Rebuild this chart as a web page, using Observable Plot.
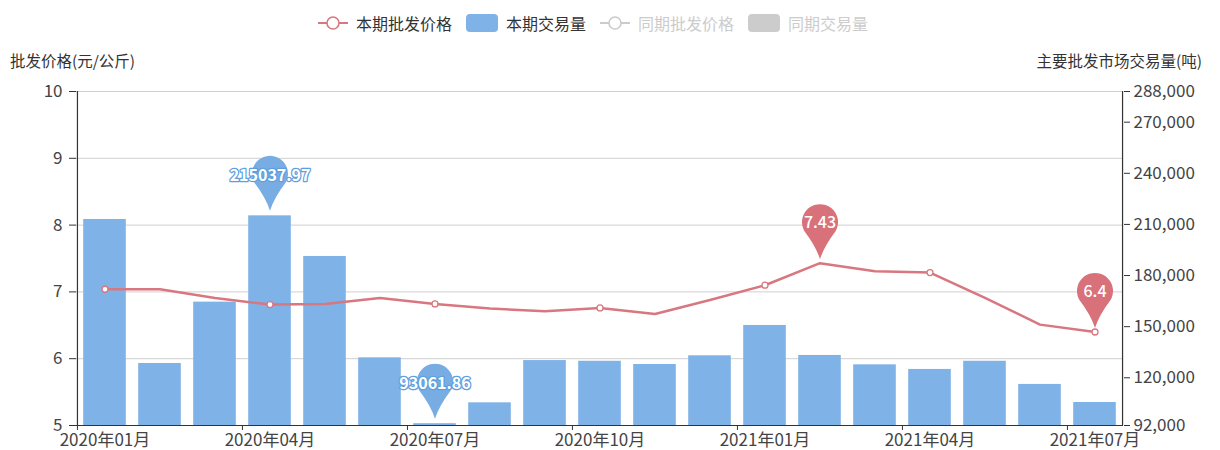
<!DOCTYPE html>
<html>
<head>
<meta charset="utf-8">
<script src="https://cdn.jsdelivr.net/npm/d3@7"></script>
<script src="https://cdn.jsdelivr.net/npm/@observablehq/plot@0.6"></script>
<style>
  html, body { margin: 0; padding: 0; background: #fff; }
  #wrap { position: relative; width: 1220px; height: 450px; font-family: "Noto Sans CJK SC", "Noto Sans", sans-serif; color: #333; }
  #legend { position: absolute; top: 0; left: 318px; height: 45px; display: flex; align-items: center; font-size: 16px; white-space: nowrap; }
  .item { display: flex; align-items: center; margin-right: 14px; }
  .item svg { margin-right: 8px; }
  .title { position: absolute; font-size: 15.5px; color: #333; white-space: nowrap; line-height: 1; }
  #chart { position: absolute; top: 45px; left: 0; }
</style>
</head>
<body>
<div id="wrap">
  <div id="legend"></div>
  <div class="title" id="tl" style="left:10px; top:53px;"></div>
  <div class="title" id="tr" style="right:18px; top:53px;"></div>
  <div id="chart"></div>
</div>
<script>
// ---- data ----
const months = ["2020年01月","2020年02月","2020年03月","2020年04月","2020年05月","2020年06月","2020年07月","2020年08月","2020年09月","2020年10月","2020年11月","2020年12月","2021年01月","2021年02月","2021年03月","2021年04月","2021年05月","2021年06月","2021年07月"];
const price = [7.04, 7.04, 6.91, 6.81, 6.82, 6.91, 6.82, 6.75, 6.71, 6.76, 6.67, 6.88, 7.10, 7.43, 7.31, 7.29, 6.91, 6.51, 6.40];
const volume = [212900, 128400, 164400, 215037.97, 191200, 131700, 93061.86, 105300, 130100, 129700, 127800, 132900, 150700, 133100, 127600, 124900, 129700, 116100, 105500];
const xTickLabels = ["2020年01月","2020年04月","2020年07月","2020年10月","2021年01月","2021年04月","2021年07月"];
const priceTicks = [5, 6, 7, 8, 9, 10];
const volumeTicks = [92000, 120000, 150000, 180000, 210000, 240000, 270000, 288000];
const volumeDomain = [92000, 288000];
const legendItems = ["本期批发价格", "本期交易量", "同期批发价格", "同期交易量"];
const leftTitle = "批发价格(元/公斤)";
const rightTitle = "主要批发市场交易量(吨)";

// ---- styling ----
const lineColor = "#d8777f";
const barColor = "#7fb2e6";
const pinBlue = "#78ade4";
const pinRed = "#d8717a";
const grey = "#cccccc";

document.getElementById("tl").textContent = leftTitle;
document.getElementById("tr").textContent = rightTitle;

// legend
const lg = document.getElementById("legend");
function lineSym(c) {
  return `<svg width="30" height="16"><line x1="0" y1="8" x2="30" y2="8" stroke="${c}" stroke-width="2"/><circle cx="15" cy="8" r="6" fill="#fff" stroke="${c}" stroke-width="1.6"/></svg>`;
}
function rectSym(c) {
  return `<svg width="32" height="20"><rect x="0" y="1" width="32" height="18" rx="4" fill="${c}"/></svg>`;
}
const legendDefs = [
  [lineSym(lineColor), legendItems[0], "#333"],
  [rectSym(barColor), legendItems[1], "#333"],
  [lineSym(grey), legendItems[2], grey],
  [rectSym(grey), legendItems[3], grey]
];
lg.innerHTML = legendDefs.map(([s, t, c]) => `<div class="item">${s}<span style="color:${c}">${t}</span></div>`).join("");

// ---- chart ----
const data = months.map((m, i) => ({month: m, price: price[i], vol: volume[i], i}));
const vs = d3.scaleLinear(volumeDomain, [5, 10]);
const W = 1220, ML = 76, MR = 97;
const step = (W - ML - MR) / months.length;

const pin = {
  draw(ctx) {
    const r = 18, d = 37;
    const th = Math.acos(r / d);
    const tx = r * Math.sin(th), ty = -d + r * Math.cos(th);
    ctx.moveTo(0, 0);
    ctx.quadraticCurveTo(-tx * 0.25, ty * 0.45, -tx, ty);
    ctx.arc(0, -d, r, Math.PI / 2 + th, Math.PI / 2 - th);
    ctx.quadraticCurveTo(tx * 0.25, ty * 0.45, 0, 0);
    ctx.closePath();
  }
};

const vMax = data[d3.maxIndex(volume)], vMin = data[d3.minIndex(volume)];
const pMax = data[d3.maxIndex(price)], pMin = data[d3.minIndex(price)];
const volPins = [vMax, vMin];
const pricePins = [pMax, pMin];

const chart = Plot.plot({
  width: W,
  height: 405,
  marginLeft: ML,
  marginRight: MR,
  marginTop: 46,
  marginBottom: 25,
  style: {fontFamily: '"Noto Sans CJK SC", "Noto Sans", sans-serif', fontSize: "17px", color: "#333", background: "transparent", overflow: "visible"},
  x: {type: "band", domain: months, padding: 0, axis: null, label: null},
  y: {domain: [5, 10], axis: null, label: null},
  marks: [
    Plot.gridY(priceTicks.slice(1), {stroke: "#cfcfcf", strokeOpacity: 1, strokeWidth: 1}),
    Plot.barY(data, {x: "month", y1: 5, y2: d => vs(d.vol), fill: barColor, insetLeft: 6.2, insetRight: 6.2}),
    Plot.line(data, {x: "month", y: "price", stroke: lineColor, strokeWidth: 2.5}),
    Plot.dot(data.filter(d => d.i % 3 === 0), {x: "month", y: "price", r: 3, fill: "#fff", stroke: lineColor, strokeWidth: 1.3}),
    Plot.ruleY([5], {stroke: "#333", strokeWidth: 1.2}),
    Plot.ruleX([months[0]], {dx: -step / 2, stroke: "#333", strokeWidth: 1.2}),
    Plot.ruleX([months[months.length - 1]], {dx: step / 2, stroke: "#333", strokeWidth: 1.2}),
    Plot.axisY({anchor: "left", label: null, ticks: priceTicks, tickSize: 7, tickPadding: 7, tickFormat: d => String(d), stroke: "#333", fill: "#444"}),
    Plot.axisY({anchor: "right", label: null, ticks: volumeTicks.map(v => vs(v)), tickSize: 6, tickPadding: 4, tickFormat: d => d3.format(",")(Math.round(vs.invert(d))), stroke: "#333", fill: "#444"}),
    Plot.axisX({label: null, ticks: xTickLabels, tickSize: 0, tickPadding: 8, fill: "#444"}),
    Plot.axisX({label: null, ticks: xTickLabels, tickSize: 5, tickFormat: () => "", dx: -step / 2, stroke: "#333"}),
    // volume pins
    Plot.dot(volPins, {x: "month", y: d => vs(d.vol), symbol: pin, r: 20, fill: pinBlue, stroke: null, dy: -5}),
    Plot.text(volPins, {x: "month", y: d => vs(d.vol), text: d => String(d.vol), dy: -40, fill: "#fff", stroke: "#5f9fe0", strokeWidth: 2.5, fontSize: 16, fontWeight: 600}),
    // price pins
    Plot.dot(pricePins, {x: "month", y: "price", symbol: pin, r: 20, fill: pinRed, stroke: null, dy: -4}),
    Plot.text(pricePins, {x: "month", y: "price", text: d => String(d.price), dy: -40, fill: "#fff", fontSize: 16, fontWeight: 500})
  ]
});
document.getElementById("chart").appendChild(chart);
</script>
</body>
</html>
